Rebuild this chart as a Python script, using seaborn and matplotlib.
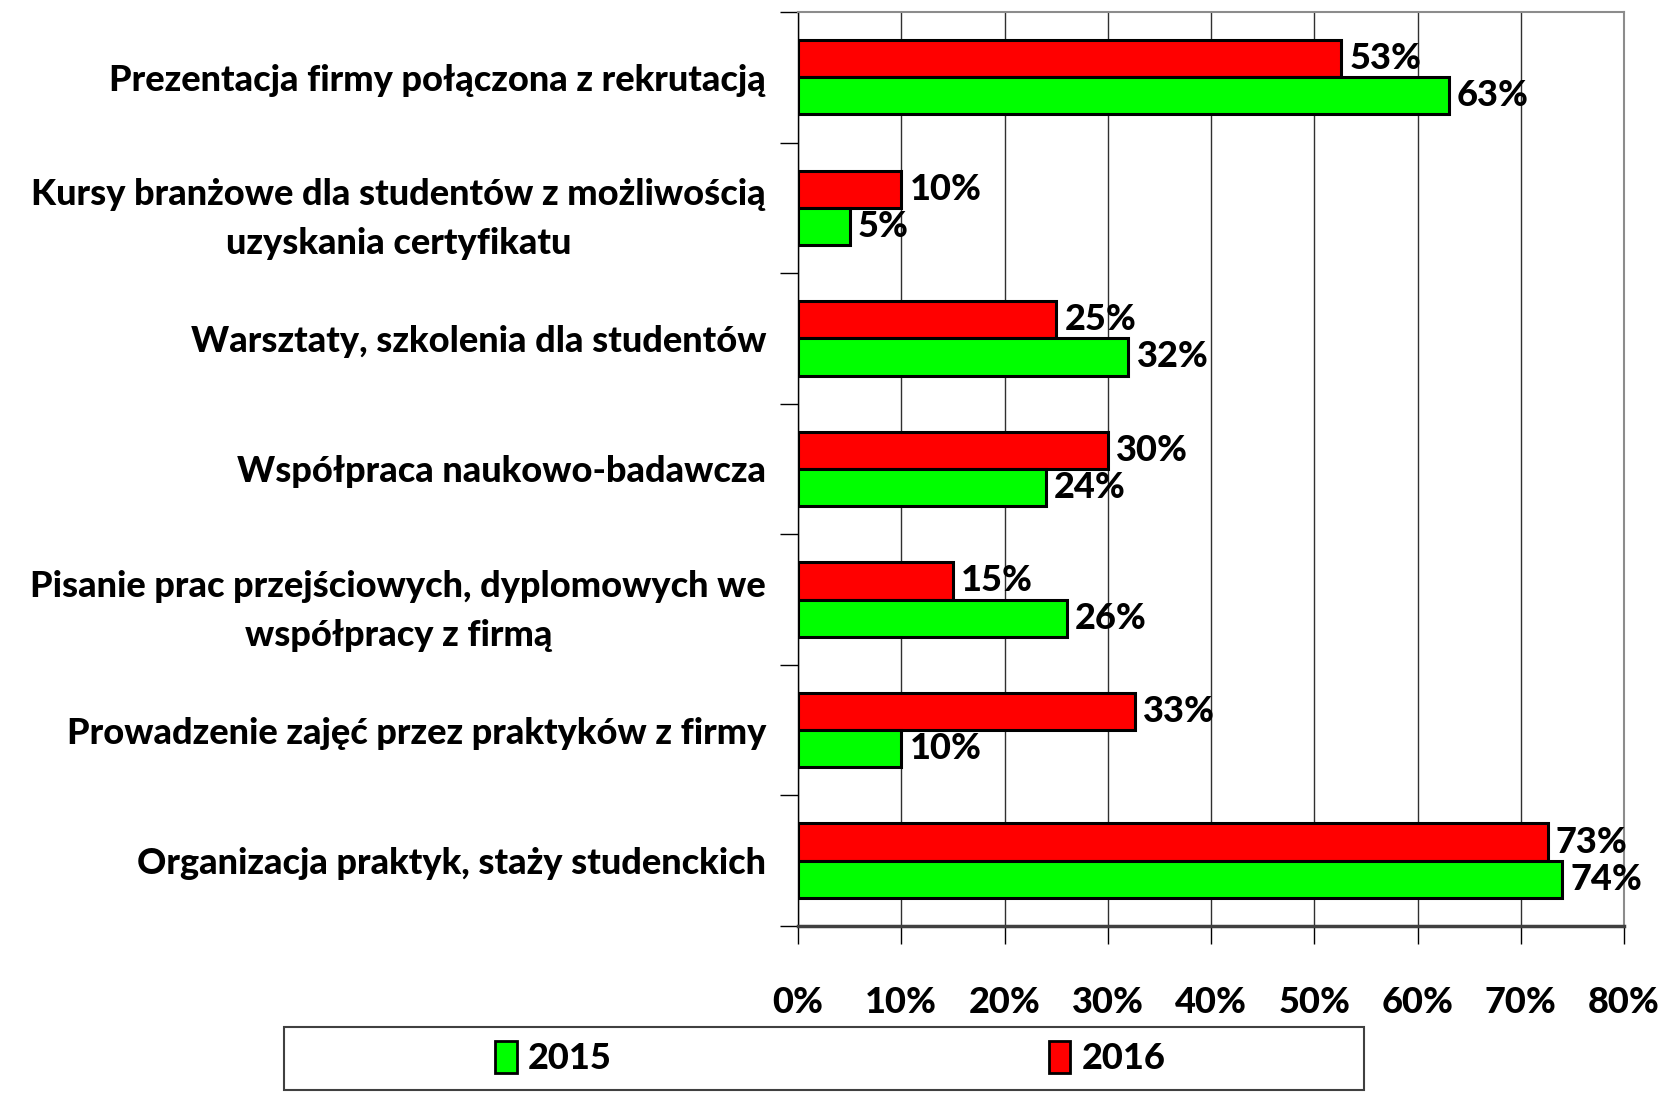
import pandas as pd
import matplotlib
matplotlib.use("Agg")
import matplotlib.pyplot as plt
import matplotlib.patches as mpatches
import seaborn as sns

# data (percent)
categories = [
    "Prezentacja firmy połączona z rekrutacją",
    "Kursy branżowe dla studentów z możliwością\nuzyskania certyfikatu",
    "Warsztaty, szkolenia dla studentów",
    "Współpraca naukowo-badawcza",
    "Pisanie prac przejściowych, dyplomowych we\nwspółpracy z firmą",
    "Prowadzenie zajęć przez praktyków z firmy",
    "Organizacja praktyk, staży studenckich",
]
vals_2015 = [63, 5, 32, 24, 26, 10, 74]
vals_2016 = [52.6, 10, 25, 30, 15, 32.6, 72.6]
years = ["2015", "2016"]
colors = {"2015": "#00FF00", "2016": "#FF0000"}
xticks = [0, 10, 20, 30, 40, 50, 60, 70, 80]

df = pd.DataFrame({
    "cat": categories * 2,
    "val": vals_2015 + vals_2016,
    "year": ["2015"] * len(categories) + ["2016"] * len(categories),
})

sns.set_style("white")
plt.rcParams["font.family"] = ["Lato", "DejaVu Sans"]
plt.rcParams["text.color"] = "black"
plt.rcParams["xtick.color"] = "black"
plt.rcParams["ytick.color"] = "black"
FS = 26
W = "black"

fig = plt.figure(figsize=(16.64, 10.94), dpi=100)
ax = fig.add_axes([0.4796, 0.1536, 0.4964, 0.8355])

sns.barplot(data=df, x="val", y="cat", hue="year", hue_order=["2016", "2015"],
            order=categories, palette=colors, saturation=1, orient="h", width=0.57,
            edgecolor="black", linewidth=2.2, ax=ax, legend=False, zorder=3)

# value labels
for cont in ax.containers:
    ax.bar_label(cont, labels=[f"{v:.0f}%" for v in cont.datavalues], padding=6,
                 fontsize=FS, fontweight=W, zorder=4)

ax.set_xlim(0, 80)
ax.set_ylim(6.5, -0.5)
ax.set_xticks(xticks)
ax.set_xticklabels([f"{t}%" for t in xticks], fontsize=FS, fontweight=W)
ax.tick_params(axis="x", direction="out", length=13, width=1, color="black", pad=30, bottom=True)
ax.xaxis.grid(True, color="#303030", linewidth=1, zorder=0)
ax.yaxis.grid(False)

# category labels at centres, tick marks at the boundaries
ax.set_yticks(range(len(categories)))
ax.set_yticklabels(categories, fontsize=FS, fontweight=W, linespacing=1.6)
for t in ax.get_yticklabels():
    t.set_multialignment("center")
ax.tick_params(axis="y", which="major", length=0, pad=23)
ax.set_yticks([i - 0.5 for i in range(len(categories) + 1)], minor=True)
ax.tick_params(axis="y", which="minor", direction="out", length=13, width=1, color="black", left=True)
ax.set_xlabel("")
ax.set_ylabel("")

for side in ["top", "right"]:
    ax.spines[side].set_color("#8c8c8c")
    ax.spines[side].set_linewidth(1.5)
ax.spines["left"].set_color("black")
ax.spines["left"].set_linewidth(1)
ax.spines["bottom"].set_color("#404040")
ax.spines["bottom"].set_linewidth(2.5)

# legend with a wide frame
frame = mpatches.Rectangle((0.1707, 0.004), 0.649, 0.0576, transform=fig.transFigure,
                           facecolor="white", edgecolor="#404040", linewidth=1.5)
fig.patches.append(frame)
handles = [mpatches.Patch(facecolor=colors[y], edgecolor="black", linewidth=2, label=y) for y in years]
fig.legend(handles=handles, loc="center", bbox_to_anchor=(0.499, 0.033), ncol=2,
           frameon=False, prop={"weight": W, "size": FS},
           handlelength=0.6, handleheight=1.0, handletextpad=0.3, columnspacing=12.1)

fig.savefig("out.png", dpi=100)
